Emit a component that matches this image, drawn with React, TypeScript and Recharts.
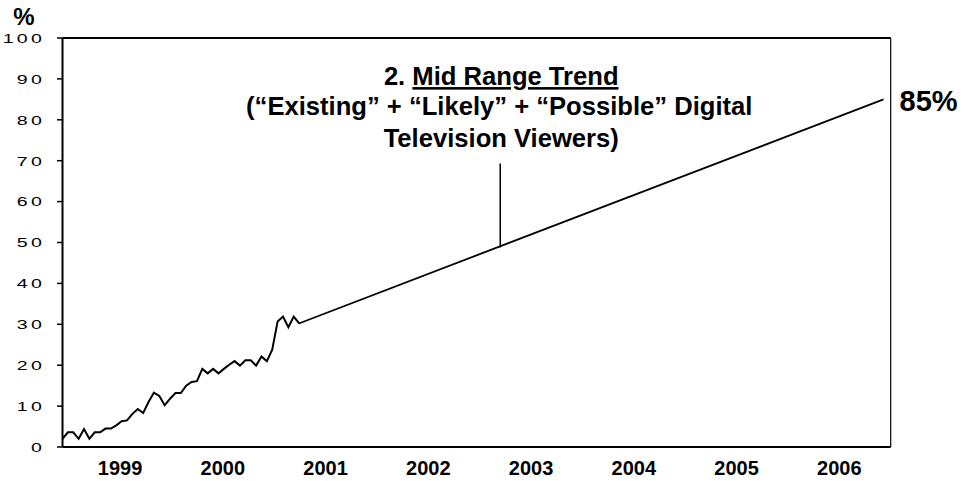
import React from 'react';
import {
  LineChart,
  Line,
  XAxis,
  YAxis,
  ReferenceLine,
  ReferenceDot,
  LabelList,
} from 'recharts';

const FONT = "Arial, 'Liberation Sans', Helvetica, sans-serif";

// Survey waves: share of households (%) watching digital television
const HISTORY_VALUES = [
  2.0, 3.6, 3.6, 2.0, 4.4, 2.0, 3.6, 3.6, 4.5, 4.5,
  5.3, 6.3, 6.5, 8.1, 9.3, 8.3, 11.0, 13.3, 12.5, 10.2,
  11.8, 13.2, 13.2, 15.0, 15.9, 16.1, 19.1, 18.0, 19.1, 18.0,
  19.1, 20.1, 21.0, 19.9, 21.2, 21.2, 19.9, 22.1, 21.0, 23.8,
  30.7, 31.9, 29.3, 31.9, 30.2,
];

// Mid range trend projection (start / end)
const TREND_YEARS = [2001.24, 2006.93];
const TREND_VALUES = [30.2, 85];

const YEAR_LABELS = ['1999', '2000', '2001', '2002', '2003', '2004', '2005', '2006'];
const Y_TICKS = [0, 10, 20, 30, 40, 50, 60, 70, 80, 90, 100];

const WAVE_DOMAIN: [number, number] = [0, 154];
const YEAR_DOMAIN: [number, number] = [1998.94, 2007.0];

// Callout pointing at the trend line
const POINTER_YEAR = 2003.2;
const POINTER_RANGE = [48.8, 69.3];
const NOTE_TITLE_NUMBER = '2. ';
const NOTE_TITLE = 'Mid Range Trend';
const NOTE_LINE_2 = '(\u201CExisting\u201D + \u201CLikely\u201D + \u201CPossible\u201D Digital';
const NOTE_LINE_3 = 'Television Viewers)';

const historyData = HISTORY_VALUES.map((share, wave) => ({ wave, share }));
const trendData = TREND_YEARS.map((year, k) => ({ year, share: TREND_VALUES[k] }));
const yearTicks = YEAR_LABELS.map((label) => Number(label) + 0.5);

const YearTick = (props: any) => {
  const { x, y, payload } = props;
  const label = YEAR_LABELS[yearTicks.indexOf(payload.value)] ?? '';
  return (
    <text
      x={x}
      y={y + 20}
      textAnchor="middle"
      fontFamily={FONT}
      fontSize={20}
      fontWeight="bold"
      fill="#000"
    >
      {label}
    </text>
  );
};

const PercentTick = (props: any) => {
  const { x, y, payload } = props;
  return (
    <text
      transform={`translate(${x - 10}, ${y}) scale(1.45, 1)`}
      textAnchor="end"
      dy="0.36em"
      fontFamily={FONT}
      fontSize={13.5}
      letterSpacing={2.2}
      fill="#000"
    >
      {payload.value}
    </text>
  );
};

const UnitLabel = (props: any) => {
  const vb = props.viewBox || { x: 0, y: 0 };
  return (
    <text
      x={vb.x + 24}
      y={vb.y - 13}
      textAnchor="middle"
      fontFamily={FONT}
      fontSize={24}
      fontWeight="bold"
      fill="#000"
    >
      %
    </text>
  );
};

const NoteLabel = (props: any) => {
  const vb = props.viewBox || { x: 0, y: 0, width: 0, height: 0 };
  const cx = vb.x + vb.width / 2 + 1;
  const top = vb.y + vb.height / 2;
  const common = {
    textAnchor: 'middle' as const,
    fontFamily: FONT,
    fontSize: 25.6,
    fontWeight: 'bold' as const,
    fill: '#000',
  };
  return (
    <g>
      <text x={cx} y={top - 78.5} {...common}>
        <tspan>{NOTE_TITLE_NUMBER}</tspan>
        <tspan textDecoration="underline">{NOTE_TITLE}</tspan>
      </text>
      <text x={cx - 2} y={top - 48.5} {...common}>
        {NOTE_LINE_2}
      </text>
      <text x={cx} y={top - 17} {...common}>
        {NOTE_LINE_3}
      </text>
    </g>
  );
};

const EndLabel = (props: any) => {
  const { x, y, value, index } = props;
  if (index !== trendData.length - 1) return null;
  return (
    <text
      x={x + 16}
      y={y + 12}
      fontFamily={FONT}
      fontSize={29}
      fontWeight="bold"
      fill="#000"
    >
      {`${value}%`}
    </text>
  );
};

export default function App() {
  return (
    <div
      style={{
        position: 'absolute',
        left: 0,
        top: 0,
        width: 965,
        height: 481,
        background: '#fff',
      }}
    >
      <LineChart
        width={965}
        height={481}
        margin={{ top: 37, right: 74.3, bottom: 0, left: 0 }}
        style={{ fontFamily: FONT }}
      >
        {/* survey-wave axis doubles as the top frame line */}
        <XAxis
          xAxisId="wave"
          orientation="top"
          type="number"
          dataKey="wave"
          domain={WAVE_DOMAIN}
          allowDataOverflow
          height={1}
          tick={false}
          tickLine={false}
          axisLine={{ stroke: '#000', strokeWidth: 2 }}
        />
        <XAxis
          xAxisId="year"
          orientation="bottom"
          type="number"
          dataKey="year"
          domain={YEAR_DOMAIN}
          allowDataOverflow
          ticks={yearTicks}
          interval={0}
          height={34}
          tickLine={false}
          axisLine={{ stroke: '#000', strokeWidth: 2 }}
          tick={<YearTick />}
        />
        <YAxis
          type="number"
          domain={[0, 100]}
          ticks={Y_TICKS}
          interval={0}
          width={62.5}
          tickSize={5.5}
          axisLine={{ stroke: '#000', strokeWidth: 2 }}
          tickLine={{ stroke: '#000', strokeWidth: 1.5 }}
          tick={<PercentTick />}
          label={<UnitLabel />}
        />
        <ReferenceLine xAxisId="year" x={YEAR_DOMAIN[1]} stroke="#000" strokeWidth={1.2} />
        <ReferenceLine
          xAxisId="year"
          segment={[
            { x: POINTER_YEAR, y: POINTER_RANGE[0] },
            { x: POINTER_YEAR, y: POINTER_RANGE[1] },
          ]}
          stroke="#000"
          strokeWidth={1.5}
        />
        <ReferenceDot
          xAxisId="year"
          x={POINTER_YEAR}
          y={POINTER_RANGE[1]}
          r={1}
          fill="none"
          stroke="none"
          label={<NoteLabel />}
        />
        <Line
          xAxisId="wave"
          data={historyData}
          dataKey="share"
          type="linear"
          stroke="#000"
          strokeWidth={2}
          dot={false}
          isAnimationActive={false}
        />
        <Line
          xAxisId="year"
          data={trendData}
          dataKey="share"
          type="linear"
          stroke="#000"
          strokeWidth={1.8}
          dot={false}
          isAnimationActive={false}
        >
          <LabelList dataKey="share" content={<EndLabel />} />
        </Line>
      </LineChart>
    </div>
  );
}
